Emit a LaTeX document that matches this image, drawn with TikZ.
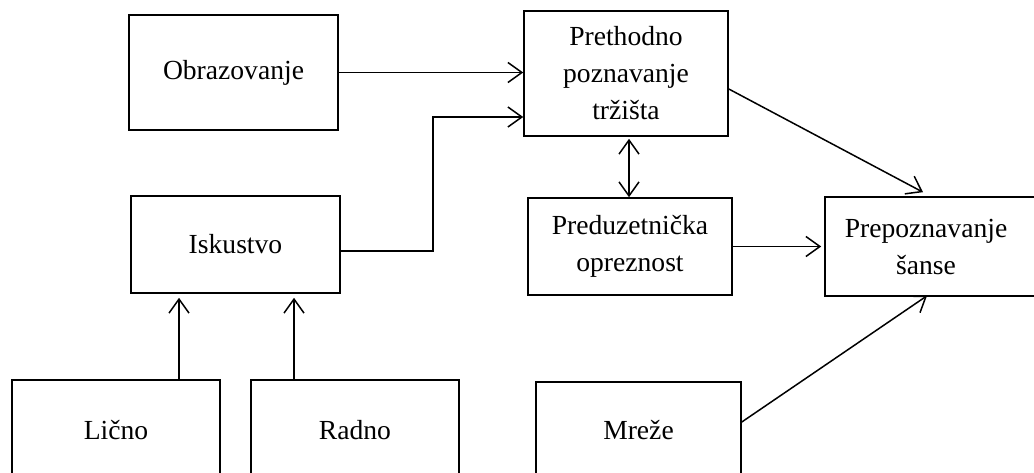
\documentclass[tikz,border=0pt]{standalone}
\usepackage{fontspec}
\setmainfont{Liberation Serif}
\usetikzlibrary{arrows.meta}
\tikzset{
  box/.style={draw, line width=1.6pt, inner sep=0pt, align=center,
              font=\fontsize{27.6}{37}\selectfont},
  txt/.style={inner sep=0pt, align=center, font=\fontsize{27.6}{37}\selectfont},
  edge/.style={line width=1.6pt},
  arr/.style={line width=1.5pt,
              -{Straight Barb[length=14pt,width=20pt,line width=1.5pt]}},
  arrboth/.style={line width=1.5pt,
              {Straight Barb[length=14pt,width=20pt,line width=1.5pt]}-{Straight Barb[length=14pt,width=20pt,line width=1.5pt]}}
}
\begin{document}
\begin{tikzpicture}[x=1pt,y=-1pt]
  \useasboundingbox (0,0) rectangle (1034,473);
  \clip (0,0) rectangle (1034,473);

  % upper row
  \node[box, minimum width=209pt, minimum height=115pt] (obr) at (233.5,72.5) {Obrazovanje};
  \node[box, minimum width=204pt, minimum height=125pt] (pret) at (626,73.5)
       {Prethodno\\poznavanje\\tržišta};

  % middle row
  \node[box, minimum width=209pt, minimum height=97pt] (isk) at (235.5,244.5) {Iskustvo};
  \node[box, minimum width=204pt, minimum height=97pt] (pred) at (630,246.5)
       {Preduzetnička\\opreznost};
  % this box runs past the right edge: only three of its sides are drawn
  \node[box, draw=none, minimum width=234pt, minimum height=97pt] (prep) at (943,246.5) {};
  \draw[edge] (prep.north east) -- (prep.north west) -- (prep.south west) -- (prep.south east);
  \node[txt] (preplabel) at (926,246.5) {Prepoznavanje\\šanse};

  % lower row (running off the bottom edge)
  \node[box, minimum width=208pt, minimum height=100pt] (lic) at (116,430) {Lično};
  \node[box, minimum width=208pt, minimum height=100pt] (rad) at (355,430) {Radno};
  \node[box, minimum width=205pt, minimum height=96pt] (mre) at (638.5,430) {Mreže};

  % connectors
  \coordinate (elbow) at (433,117);
  \draw[arr] (obr.east) -- (obr.east -| pret.west);
  \draw[arr] ([yshift=-6.5pt]isk.east) -| (elbow) -- (elbow -| pret.west);
  \draw[arrboth, shorten <=2pt] ([xshift=3pt]pret.south) -- ([xshift=-1pt]pred.north);
  \draw[arr] ([yshift=-15.5pt]pret.east) -- ([xshift=-20pt,yshift=5pt]prep.north);
  \draw[arr, shorten >=4pt] (pred.east) -- (pred.east -| prep.west);
  \draw[arr] ([yshift=8pt]mre.east) -- ([xshift=-16pt]prep.south);
  \draw[arr, shorten >=4pt] ([xshift=63pt]lic.north) -- ([xshift=63pt]lic.north |- isk.south);
  \draw[arr, shorten >=4pt] ([xshift=-61pt]rad.north) -- ([xshift=-61pt]rad.north |- isk.south);
\end{tikzpicture}
\end{document}
